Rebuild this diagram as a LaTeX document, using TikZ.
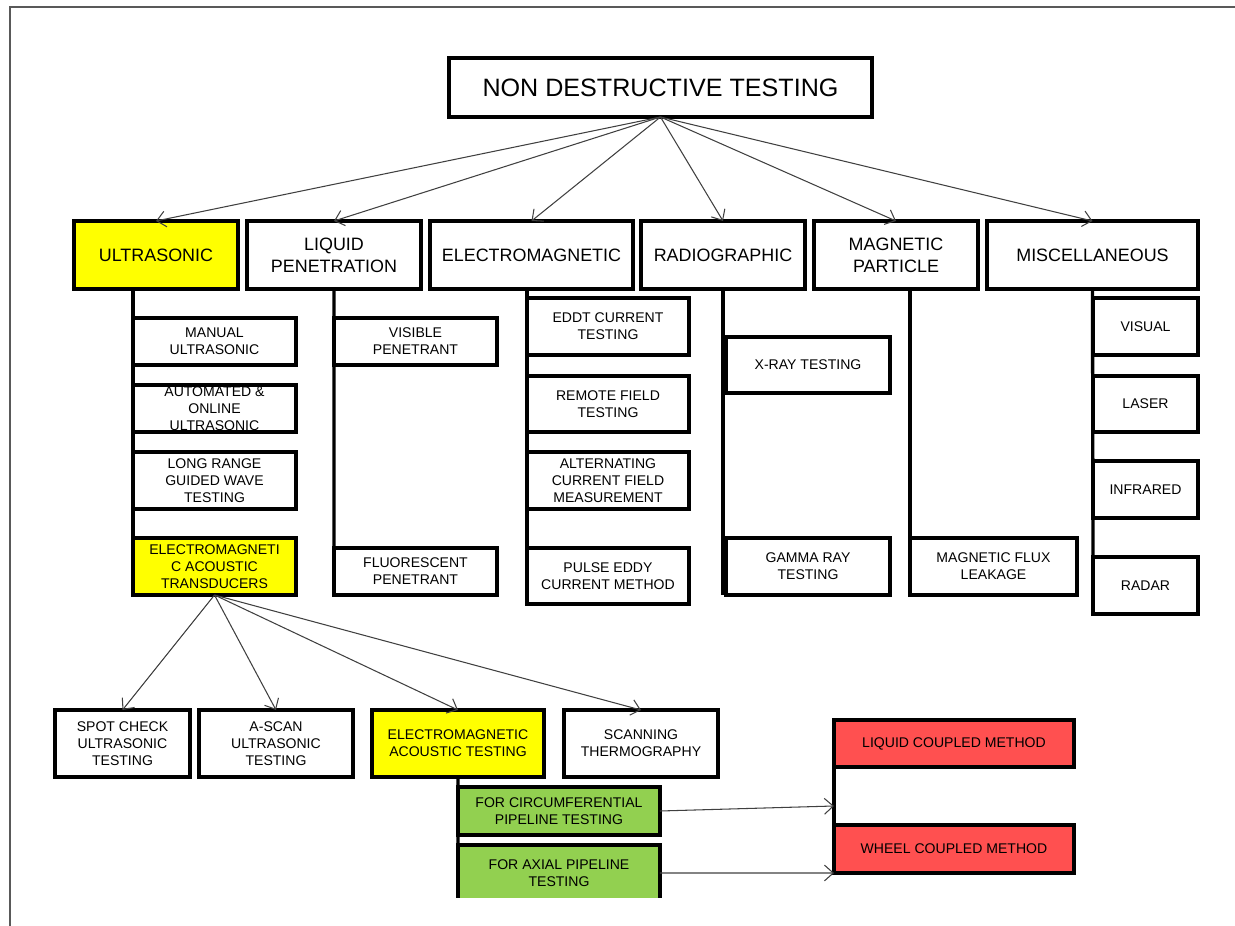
\documentclass[tikz,border=0pt]{standalone}
\usepackage{xcolor}
\usepackage{fontspec}
\setmainfont{Liberation Sans}
\usepackage{tikz}
\usetikzlibrary{arrows.meta, positioning}

\definecolor{ndtyellow}{HTML}{FFFF00}
\definecolor{ndtgreen}{HTML}{92D050}
\definecolor{ndtred}{HTML}{FF5050}

\begin{document}
\begin{tikzpicture}[
    x=0.02cm, y=-0.02cm,
    root node/.style={rectangle,draw,line width=1.9pt,outer sep=0pt,font=\fontsize{14.3}{17}\selectfont,minimum width=8.46cm,minimum height=1.18cm},
    cat node/.style={rectangle,draw,line width=1.9pt,outer sep=0pt,align=center,font=\fontsize{10.2}{12.5}\selectfont,minimum height=1.36cm,inner sep=1pt},
    sub node/.style={rectangle,draw,line width=1.9pt,outer sep=0pt,align=center,font=\fontsize{8}{9.7}\selectfont,inner sep=1pt},
    arrow/.style={-{Straight Barb[length=5pt,width=9pt]},line width=0.6pt,draw=black!75},
    trunk/.style={line width=1.9pt}
]
\useasboundingbox (0,0) rectangle (1235,926);

% page frame
\draw[black!65,line width=1pt] (1235,7) -- (10,7) -- (10,926);

\node[root node] (ndt) at (660.5,87.5) {NON DESTRUCTIVE TESTING};

% methods
\node[cat node,fill=ndtyellow,minimum width=3.28cm] (ultra) at (156,255) {ULTRASONIC};
\node[cat node,minimum width=3.48cm] (liquid) at (334,255) {LIQUID\\PENETRATION};
\node[cat node,minimum width=4.06cm] (electro) at (531.5,255) {ELECTROMAGNETIC};
\node[cat node,minimum width=3.28cm] (radio) at (723,255) {RADIOGRAPHIC};
\node[cat node,minimum width=3.28cm] (magpart) at (896,255) {MAGNETIC\\PARTICLE};
\node[cat node,minimum width=4.22cm] (misc) at (1092.5,255) {MISCELLANEOUS};

\foreach \m in {ultra,liquid,electro,radio,magpart,misc}
    \draw[arrow] (ndt.south) -- (\m.north);

% ultrasonic
\node[sub node,minimum width=3.26cm,minimum height=0.94cm] (usman) at (214.5,341.5) {MANUAL\\ULTRASONIC};
\node[sub node,minimum width=3.26cm,minimum height=0.94cm,inner ysep=0pt] (usauto) at (214.5,408.5) {AUTOMATED \&\\ONLINE\\ULTRASONIC};
\node[sub node,minimum width=3.26cm,minimum height=1.14cm] (uslong) at (214.5,480.5) {LONG RANGE\\GUIDED WAVE\\TESTING};
\node[sub node,fill=ndtyellow,minimum width=3.26cm,minimum height=1.14cm] (ustrans) at (214.5,566.5) {ELECTROMAGNETI\\C ACOUSTIC\\TRANSDUCERS};
\draw[trunk] (ultra.south -| usman.west) -- (ustrans.north west);

% liquid penetration
\node[sub node,minimum width=3.26cm,minimum height=0.94cm] (lpvis) at (415.5,341.5) {VISIBLE\\PENETRANT};
\node[sub node,minimum width=3.26cm,minimum height=0.94cm] (lpfluo) at (415.5,571.5) {FLUORESCENT\\PENETRANT};
\draw[trunk] (liquid.south) -- (lpfluo.north west);

% electromagnetic
\node[sub node,minimum width=3.24cm,minimum height=1.14cm] (emeddt) at (608,326.5) {EDDT CURRENT\\TESTING};
\node[sub node,minimum width=3.24cm,minimum height=1.12cm] (emremote) at (608,404) {REMOTE FIELD\\TESTING};
\node[sub node,minimum width=3.24cm,minimum height=1.14cm] (emacfm) at (608,480.5) {ALTERNATING\\CURRENT FIELD\\MEASUREMENT};
\node[sub node,minimum width=3.24cm,minimum height=1.12cm] (empulse) at (608,576) {PULSE EDDY\\CURRENT METHOD};
\draw[trunk] (electro.south -| emeddt.west) -- (empulse.north west);

% radiographic
\node[sub node,minimum width=3.28cm,minimum height=1.12cm] (rdxray) at (808,365) {X-RAY TESTING};
\node[sub node,minimum width=3.28cm,minimum height=1.14cm] (rdgamma) at (808,566.5) {GAMMA RAY\\TESTING};
\draw[trunk] (radio.south) -- (radio.south |- rdgamma.south);

% magnetic particle
\node[sub node,minimum width=3.34cm,minimum height=1.14cm] (mpflux) at (993.5,566.5) {MAGNETIC FLUX\\LEAKAGE};
\draw[trunk] (magpart.south -| mpflux.west) -- (mpflux.north west);

% miscellaneous
\node[sub node,minimum width=2.1cm,minimum height=1.14cm] (msvis) at (1145.5,326.5) {VISUAL};
\node[sub node,minimum width=2.1cm,minimum height=1.12cm] (mslaser) at (1145.5,404) {LASER};
\node[sub node,minimum width=2.1cm,minimum height=1.14cm] (msir) at (1145.5,489.5) {INFRARED};
\node[sub node,minimum width=2.1cm,minimum height=1.14cm] (msradar) at (1145.5,585.5) {RADAR};
\draw[trunk] (misc.south) -- (msradar.north west);

% transducer branches
\node[sub node,minimum width=2.7cm,minimum height=1.34cm] (spot) at (122.5,743.5) {SPOT CHECK\\ULTRASONIC\\TESTING};
\node[sub node,minimum width=3.08cm,minimum height=1.34cm] (ascan) at (276,743.5) {A-SCAN\\ULTRASONIC\\TESTING};
\node[sub node,fill=ndtyellow,minimum width=3.44cm,minimum height=1.34cm] (emat) at (458,743.5) {ELECTROMAGNETIC\\ACOUSTIC TESTING};
\node[sub node,minimum width=3.08cm,minimum height=1.34cm] (thermo) at (641,743.5) {SCANNING\\THERMOGRAPHY};

\foreach \b in {spot,ascan,emat,thermo}
    \draw[arrow] (ustrans.south) -- (\b.north);

% pipeline testing
\node[sub node,fill=ndtgreen,minimum width=4.04cm,minimum height=0.96cm] (circ) at (559,811) {FOR CIRCUMFERENTIAL\\PIPELINE TESTING};
\begin{scope}
\clip (0,0) rectangle (1235,897);
\node[sub node,fill=ndtgreen,minimum width=4.04cm,minimum height=1.12cm] (axial) at (559,873) {FOR AXIAL PIPELINE\\TESTING};
\end{scope}
\draw[trunk] (emat.south) -- (axial.north west);

\node[sub node,fill=ndtred,minimum width=4.8cm,minimum height=0.94cm] (liqcoup) at (954,743.5) {LIQUID COUPLED METHOD};
\node[sub node,fill=ndtred,minimum width=4.8cm,minimum height=0.96cm] (whlcoup) at (954,849) {WHEEL COUPLED METHOD};
\draw[trunk] (liqcoup.south west) -- (whlcoup.north west);
\coordinate (cpl) at (834,806);

\draw[arrow] (circ.east) -- (cpl);
\draw[arrow] (axial.east) -- (whlcoup.south west);

\end{tikzpicture}
\end{document}
